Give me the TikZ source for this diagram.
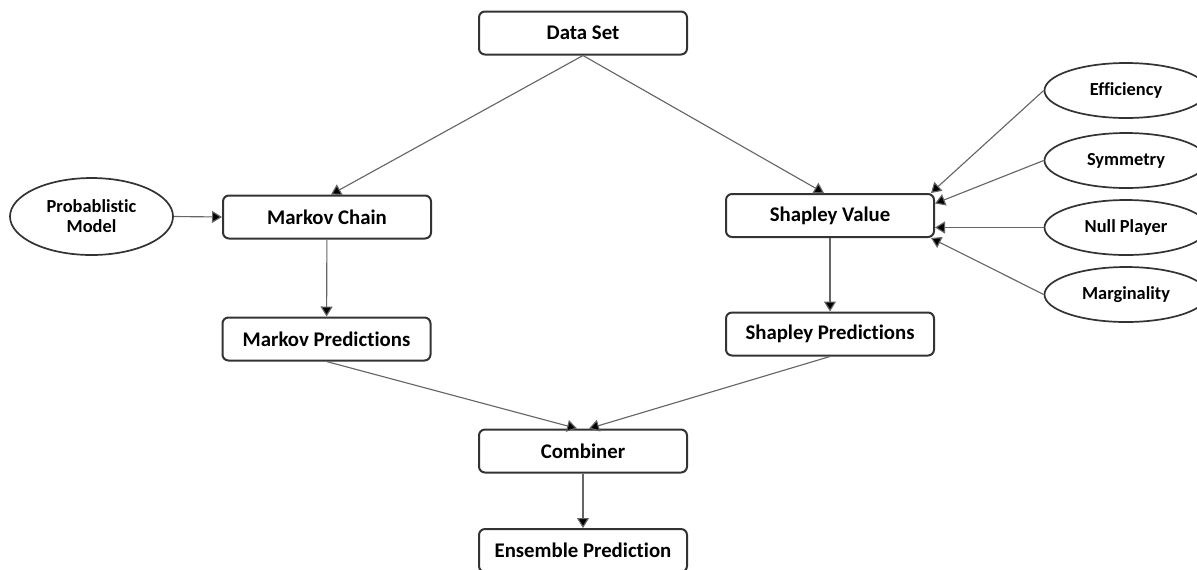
\documentclass[tikz,border=0pt]{standalone}
\usepackage{fontspec}
\setmainfont{Carlito}[Ligatures=NoCommon]
\usetikzlibrary{arrows.meta,shapes.geometric}

\begin{document}
\begin{tikzpicture}[x=0.5pt,y=-0.5pt,
    stepbox/.style={draw=black!80,line width=0.35mm,rounded corners=3pt,minimum width=104pt,minimum height=21.5pt,inner sep=0pt,font=\bfseries\fontsize{10.4}{12}\selectfont},
    propnode/.style={ellipse,draw=black!80,line width=0.3mm,minimum width=81.5pt,minimum height=27.5pt,inner sep=0pt,align=center,font=\bfseries\fontsize{9.2}{10}\selectfont},
    link/.style={draw=black!60,line width=0.2mm,-{Triangle[length=5pt,width=6pt,fill=black]}}]
    \useasboundingbox (0,0) rectangle (1197,569);
    % main flow
    \node[stepbox] (data) at (583,33) {Data Set};
    \node[stepbox] (markov) at (327,217) {Markov Chain};
    \node[stepbox] (shapley) at (830,215.5) {Shapley Value};
    \node[stepbox] (markovpred) at (326.5,339) {Markov Predictions};
    \node[stepbox] (shapleypred) at (830,334) {Shapley Predictions};
    \node[stepbox] (comb) at (583,451) {Combiner};
    \node[stepbox] (ensemble) at (583,550.5) {Ensemble Prediction};
    % side inputs
    \node[propnode,minimum height=38.5pt] (prob) at (91.5,216.5) {Probablistic\\Model};
    \node[propnode] (eff) at (1126,90.5) {Efficiency};
    \node[propnode] (sym) at (1126,160.5) {Symmetry};
    \node[propnode] (null) at (1126,227.5) {Null Player};
    \node[propnode] (marg) at (1126,294.5) {Marginality};
    % connectors
    \draw[link] (data.south) -- ([xshift=2pt]markov.north);
    \draw[link] (data.south) -- ([xshift=-3pt]shapley.north);
    \draw[link] (prob.east) -- (markov.west);
    \draw[link] (markov) -- (markovpred);
    \draw[link] (shapley) -- (shapleypred);
    \draw[link] (markovpred.south) -- ([xshift=-3pt]comb.north);
    \draw[link] (shapleypred.south) -- ([xshift=3pt]comb.north);
    \draw[link] (comb) -- (ensemble);
    \draw[link] (eff.west) -- ([xshift=-2pt]shapley.north east);
    \draw[link] (sym.west) -- ([yshift=6pt]shapley.east);
    \draw[link] (null.west) -- (null.west -| shapley.east);
    \draw[link] (marg.west) -- ([xshift=-2pt]shapley.south east);
\end{tikzpicture}
\end{document}
